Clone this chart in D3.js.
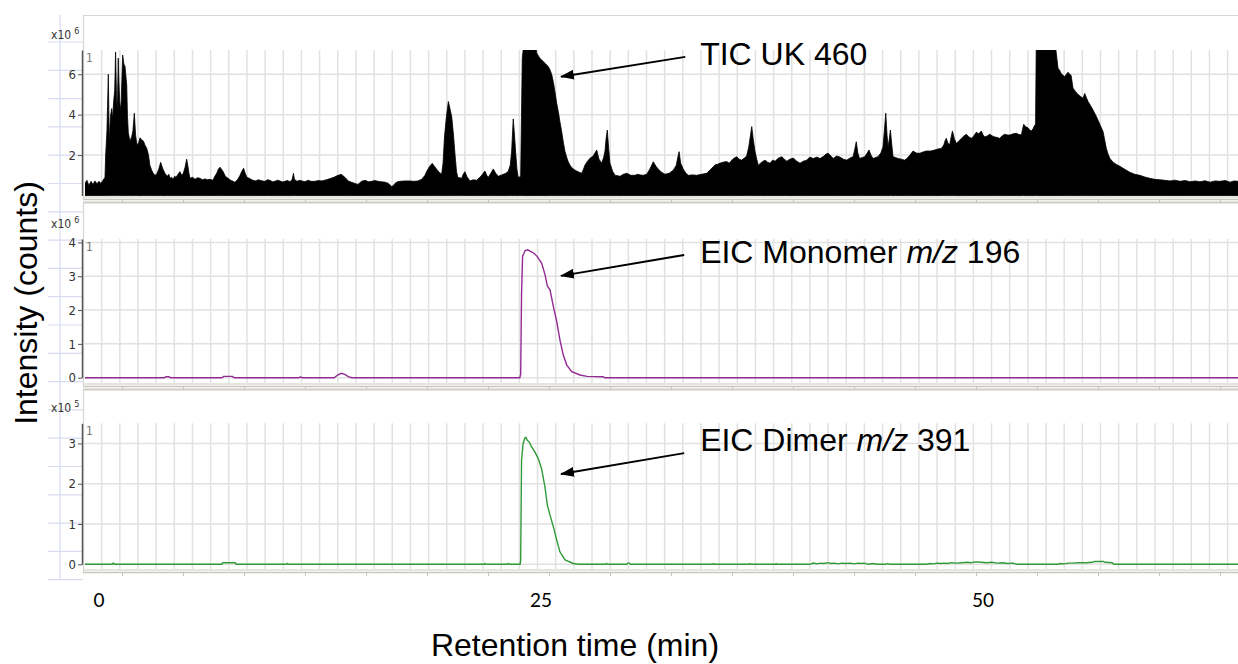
<!DOCTYPE html>
<html>
<head>
<meta charset="utf-8">
<script src="https://cdn.jsdelivr.net/npm/d3@7"></script>
<style>
  html, body { margin: 0; padding: 0; background: #fff; }
  svg { display: block; }
</style>
</head>
<body>
<svg id="chart" width="1238" height="664"></svg>
<script>
// ---- data -------------------------------------------------------------
// Retention time (min) and intensity. TIC in units of 10^6 counts
const ticTrace = [
[-0.79,0.6],[-0.68,0.75],[-0.57,0.5],[-0.45,0.7],[-0.34,0.55],[-0.23,0.72],[-0.11,0.58],[0.0,0.7],[0.11,0.6],[0.23,0.75],[0.34,0.9],
[0.38,2.0],[0.45,3.2],[0.53,6.0],[0.58,2.7],[0.65,3.9],[0.72,4.3],[0.77,3.8],[0.83,4.65],[0.89,5.2],[0.94,7.1],[0.99,5.0],[1.04,4.15],[1.09,6.8],[1.13,5.6],[1.17,4.65],[1.24,4.2],[1.34,6.95],[1.41,6.5],[1.47,6.4],[1.57,5.47],[1.61,4.0],[1.66,3.1],[1.75,2.7],[1.85,2.9],[1.92,3.2],[2.0,4.07],[2.07,3.0],[2.13,2.6],[2.21,2.5],[2.32,2.86],[2.42,2.75],[2.51,2.7],[2.6,2.5],[2.7,2.34],[2.8,2.0],[2.88,1.5],[2.98,1.25],[3.07,1.1],[3.17,1.0],[3.26,1.05],[3.38,1.3],[3.49,1.64],[3.56,1.45],[3.62,1.3],[3.73,1.1],[3.87,0.95],[3.95,1.05],[4.02,0.85],[4.1,0.9],[4.19,0.8],[4.28,0.95],[4.36,0.9],[4.47,1.05],[4.58,1.18],[4.68,1.0],[4.77,1.1],[4.87,1.4],[4.96,1.8],[5.04,1.4],[5.09,1.1],[5.15,0.85],[5.3,0.9],[5.43,0.8],[5.57,0.88],[5.71,0.85],[5.85,0.78],[6.0,0.82],[6.14,0.78],[6.28,0.8],[6.45,0.75],[6.55,0.95],[6.66,1.1],[6.75,1.3],[6.84,1.4],[6.93,1.3],[7.01,1.2],[7.15,0.95],[7.3,0.85],[7.45,0.75],[7.58,0.7],[7.69,0.65],[7.85,0.8],[7.98,1.0],[8.08,1.2],[8.18,1.35],[8.27,1.1],[8.37,0.9],[8.5,0.85],[8.64,0.78],[8.76,0.74],[8.88,0.72],[9.0,0.78],[9.11,0.75],[9.25,0.72],[9.39,0.7],[9.53,0.78],[9.67,0.75],[9.81,0.68],[9.95,0.7],[10.1,0.76],[10.24,0.72],[10.38,0.67],[10.52,0.7],[10.66,0.74],[10.8,0.68],[10.93,0.8],[11.0,1.1],[11.05,0.8],[11.2,0.7],[11.34,0.75],[11.48,0.72],[11.65,0.68],[11.82,0.75],[12.0,0.7],[12.22,0.7],[12.4,0.74],[12.61,0.72],[12.78,0.76],[12.95,0.8],[13.12,0.85],[13.29,0.9],[13.4,0.95],[13.52,1.0],[13.6,1.02],[13.69,1.05],[13.8,0.98],[13.91,0.9],[14.1,0.72],[14.29,0.65],[14.47,0.6],[14.65,0.55],[14.85,0.7],[15.05,0.75],[15.24,0.68],[15.42,0.7],[15.6,0.74],[15.78,0.7],[15.98,0.68],[16.18,0.66],[16.37,0.6],[16.56,0.44],[16.65,0.5],[16.74,0.6],[16.88,0.68],[17.02,0.7],[17.3,0.72],[17.59,0.72],[17.8,0.7],[18.04,0.72],[18.25,0.8],[18.44,1.0],[18.54,1.2],[18.64,1.35],[18.75,1.5],[18.85,1.59],[18.97,1.45],[19.1,1.3],[19.24,1.15],[19.38,1.05],[19.46,1.6],[19.54,2.9],[19.65,3.9],[19.76,4.65],[19.85,4.3],[19.95,3.9],[20.05,3.0],[20.14,2.0],[20.22,1.2],[20.29,0.9],[20.4,0.88],[20.51,0.85],[20.6,1.05],[20.7,1.18],[20.8,0.95],[20.98,0.72],[21.17,0.78],[21.36,0.75],[21.6,0.95],[21.83,1.21],[21.93,1.0],[22.02,0.9],[22.16,1.1],[22.3,1.31],[22.44,1.1],[22.58,0.95],[22.73,1.0],[22.87,1.05],[23.01,1.1],[23.15,1.2],[23.26,1.5],[23.34,2.2],[23.43,3.79],[23.5,3.0],[23.57,2.1],[23.64,1.3],[23.71,0.9],[23.78,0.92],[23.85,0.95],
[23.94,6.79],[24.04,7.6],[24.66,7.6],[24.76,7.04],[24.94,6.79],[25.1,6.65],[25.23,6.54],[25.41,6.38],[25.52,6.2],[25.61,5.97],[25.7,5.6],[25.79,5.14],[25.88,4.6],[25.98,4.15],[26.07,3.65],[26.17,3.16],[26.27,2.6],[26.36,2.17],[26.45,1.9],[26.54,1.67],[26.64,1.5],[26.74,1.38],[26.88,1.28],[27.02,1.21],[27.16,1.15],[27.3,1.1],[27.4,1.3],[27.49,1.51],[27.63,1.7],[27.77,1.84],[27.94,1.95],[28.05,2.1],[28.15,2.25],[28.28,1.8],[28.43,1.6],[28.55,1.9],[28.62,2.2],[28.68,2.8],[28.75,3.24],[28.82,2.4],[28.9,1.6],[29.05,1.2],[29.19,1.0],[29.33,0.98],[29.47,0.95],[29.66,1.05],[29.85,1.1],[30.08,1.0],[30.32,1.0],[30.46,1.05],[30.6,1.02],[30.78,1.0],[30.98,1.05],[31.15,1.3],[31.26,1.5],[31.35,1.67],[31.5,1.45],[31.64,1.3],[31.82,1.15],[32.01,1.05],[32.25,1.1],[32.48,1.25],[32.65,1.5],[32.74,1.9],[32.81,2.17],[32.9,1.6],[33.05,1.3],[33.2,1.1],[33.33,1.0],[33.57,1.02],[33.81,1.0],[34.09,1.05],[34.37,1.1],[34.6,1.3],[34.84,1.51],[35.0,1.55],[35.12,1.6],[35.3,1.65],[35.5,1.68],[35.65,1.6],[35.79,1.75],[35.93,1.85],[36.07,1.92],[36.2,1.8],[36.35,1.75],[36.5,1.85],[36.63,1.95],[36.75,2.4],[36.85,3.0],[36.92,3.41],[37.0,2.8],[37.1,2.2],[37.2,1.8],[37.29,1.5],[37.48,1.65],[37.67,1.75],[37.81,1.65],[37.95,1.6],[38.1,1.75],[38.24,1.7],[38.43,1.85],[38.62,1.92],[38.76,1.8],[38.9,1.7],[39.08,1.8],[39.27,1.85],[39.46,1.7],[39.65,1.6],[39.84,1.7],[40.03,1.75],[40.2,1.9],[40.4,1.83],[40.6,1.9],[40.78,1.83],[41.0,1.95],[41.12,2.05],[41.25,2.09],[41.39,1.95],[41.53,1.83],[41.72,1.95],[41.91,1.9],[42.1,1.8],[42.29,1.75],[42.47,1.85],[42.65,1.92],[42.75,2.3],[42.83,2.66],[42.92,2.1],[43.02,1.83],[43.17,1.88],[43.31,1.92],[43.45,2.1],[43.55,2.25],[43.66,2.0],[43.78,1.83],[43.92,1.88],[44.06,1.92],[44.22,2.1],[44.34,2.4],[44.42,3.2],[44.5,4.07],[44.57,3.0],[44.63,2.4],[44.7,2.8],[44.76,3.24],[44.84,2.5],[44.91,1.92],[45.05,1.88],[45.19,1.83],[45.38,1.8],[45.57,1.75],[45.72,1.85],[45.87,2.0],[45.95,2.1],[46.04,2.2],[46.23,2.1],[46.42,2.09],[46.6,2.15],[46.79,2.2],[47.03,2.2],[47.27,2.25],[47.45,2.3],[47.64,2.33],[47.78,2.5],[47.85,2.7],[47.92,2.83],[48.01,2.6],[48.11,2.5],[48.2,2.9],[48.27,3.19],[48.38,2.8],[48.49,2.58],[48.64,2.7],[48.78,2.83],[48.92,2.95],[49.06,3.03],[49.2,2.9],[49.34,2.83],[49.48,2.95],[49.62,3.13],[49.76,3.05],[49.9,3.19],[50.0,3.0],[50.1,2.9],[50.24,2.95],[50.38,3.03],[50.52,2.95],[50.66,2.9],[50.8,2.87],[50.94,2.83],[51.08,2.95],[51.22,3.03],[51.37,3.0],[51.51,2.99],[51.7,3.05],[51.88,3.08],[52.03,3.02],[52.17,3.0],[52.24,3.3],[52.3,3.52],[52.42,3.4],[52.54,3.35],[52.63,3.25],[52.73,3.19],[52.83,3.3],[52.92,3.48],[52.97,3.5],
[53.01,7.6],[54.07,7.6],[54.24,6.3],[54.33,6.2],[54.41,6.05],[54.52,5.95],[54.62,5.88],[54.71,6.0],[54.81,6.1],[54.9,6.0],[54.98,5.95],[55.04,5.6],[55.09,5.31],[55.23,5.15],[55.37,5.0],[55.52,4.9],[55.66,4.81],[55.75,5.05],[55.84,4.85],[55.94,4.65],[56.08,4.45],[56.22,4.23],[56.36,4.0],[56.5,3.74],[56.64,3.45],[56.79,3.16],[56.88,2.75],[56.97,2.34],[57.07,2.05],[57.17,1.84],[57.35,1.65],[57.54,1.54],[57.73,1.45],[57.92,1.35],[58.11,1.25],[58.3,1.15],[58.58,1.05],[58.86,1.0],[59.14,0.92],[59.43,0.85],[59.71,0.8],[59.99,0.78],[60.3,0.75],[60.58,0.72],[60.86,0.76],[61.14,0.7],[61.43,0.74],[61.71,0.68],[62.0,0.72],[62.27,0.68],[62.55,0.73],[62.84,0.66],[63.12,0.72],[63.4,0.7],[63.7,0.74],[63.97,0.66],[64.2,0.72],[64.42,0.7]
];

// EIC monomer m/z 196, units of 10^6 counts
const monomerTrace = [
[-0.79,0],[3.7,0],[3.8,0.03],[3.95,0.03],[4.05,0],[6.95,0],[7.05,0.04],[7.55,0.04],[7.65,0],[11.3,0],[11.4,0.02],[11.5,0],
[13.3,0],[13.5,0.08],[13.7,0.13],[13.9,0.1],[14.1,0.03],[14.3,0],[23.8,0],[23.85,0.1],[23.9,2.5],[23.96,3.6],[24.04,3.68],
[24.1,3.76],[24.25,3.78],[24.38,3.74],[24.6,3.68],[24.79,3.58],[25.04,3.38],[25.23,3.04],[25.36,2.71],[25.51,2.6],[25.7,2.1],
[25.89,1.66],[26.07,1.12],[26.26,0.67],[26.45,0.38],[26.74,0.18],[27.2,0.08],[27.6,0.04],[28.5,0.03],[28.6,0],[64.42,0]
];

// EIC dimer m/z 391, units of 10^5 counts
const dimerTrace = [
[-0.79,0],[0.75,0],[0.81,0.03],[0.87,0],[6.95,0],[7.0,0.04],[7.7,0.04],[7.75,0],[10.6,0],[10.65,0.02],[10.7,0],[21.8,0],[21.83,0.02],[21.9,0],
[23.1,0],[23.15,0.02],[23.2,0],[23.82,0],[23.85,0.1],[23.9,2.59],[23.99,3.0],[24.08,3.13],[24.15,3.15],[24.22,3.08],[24.33,3.04],[24.46,2.92],
[24.65,2.79],[24.84,2.63],[25.03,2.38],[25.22,1.93],[25.36,1.47],[25.51,1.22],[25.7,0.93],[25.89,0.6],[26.07,0.31],[26.36,0.11],[26.83,0.02],
[27.1,0],[28.65,0],[28.7,0.02],[28.75,0],[29.85,0],[29.9,0.03],[30.0,0.03],[30.05,0],[34.7,0],[34.75,0.015],[34.8,0],[36.75,0],[36.8,0.015],
[36.85,0],[38.25,0],[38.3,0.015],[38.35,0],[40.2,0],[40.4,0.03],[40.6,0.01],[40.8,0.03],[41.0,0.02],[41.2,0.04],[41.4,0.02],[41.6,0.03],
[41.8,0.01],[42.0,0.03],[42.2,0.02],[42.5,0.03],[42.7,0.01],[42.9,0.03],[43.1,0.02],[43.3,0.03],[43.5,0],[43.8,0.02],[44.0,0],[44.5,0],
[44.6,0.02],[44.7,0],[46.8,0],[47.0,0.02],[47.2,0.01],[47.4,0.03],[47.6,0.02],[47.8,0.03],[48.0,0.02],[48.2,0.04],[48.5,0.03],[48.8,0.04],
[49.1,0.05],[49.3,0.04],[49.6,0.06],[49.9,0.05],[50.2,0.04],[50.5,0.05],[50.8,0.03],[51.1,0.04],[51.4,0.02],[51.7,0.03],[51.9,0],[54.2,0],
[54.4,0.02],[54.6,0.01],[54.8,0.03],[55.0,0.03],[55.4,0.04],[55.8,0.04],[56.2,0.05],[56.3,0.07],[56.8,0.07],[56.9,0.05],[57.3,0.04],[57.4,0],[64.42,0]
];

// axis tick values and labels
const timeTickValues = [0, 25, 50];
const ticTicks = [2, 4, 6];
const monomerTicks = [0, 1, 2, 3, 4];
const dimerTicks = [0, 1, 2, 3];
const exponents = ["6", "6", "5"];
const traceLabels = [
  { text: "TIC UK 460" },
  { text: "EIC Monomer ", mz: "196" },
  { text: "EIC Dimer ", mz: "391" }
];

// ---- layout -----------------------------------------------------------
const W = 1238, H = 664;
const svg = d3.select("#chart");
svg.append("rect").attr("width", W).attr("height", H).attr("fill", "#fff");

const plotLeft = 85, plotRight = 1238, axisX = 82;
const timeDomain = [-0.79, 64.42];
const x = d3.scaleLinear().domain(timeDomain).range([plotLeft, plotRight]);

const gridStart = 0.153, gridStep = 1.0271;     // minor vertical grid interval (min)
const frameTickStart = 1.33, frameTickStep = 3.45;

const panels = [
  { data: ticTrace, ticks: ticTicks, yMax: 7.2, y0: 195.5, yTop: 50, frameTop: 15, frameBottom: 199, kind: "area", color: "#000" },
  { data: monomerTrace, ticks: monomerTicks, yMax: 4.1, y0: 377.7, yTop: 239, frameTop: 202, frameBottom: 386, kind: "line", color: "#922a91" },
  { data: dimerTrace, ticks: dimerTicks, yMax: 3.5, y0: 564.3, yTop: 423.3, frameTop: 389, frameBottom: 572, kind: "line", color: "#2f9a36" }
];
panels.forEach(p => { p.y = d3.scaleLinear().domain([0, p.yMax]).range([p.y0, p.yTop]); });

// faint ruled paper lines in the left margin
const paper = svg.append("g").attr("stroke", "#d8dbf1").attr("stroke-width", 1.2);
paper.append("line").attr("x1", 60).attr("x2", 60).attr("y1", 15).attr("y2", 580);
paper.selectAll("line.h").data(d3.range(20)).join("line").attr("class", "h")
  .attr("x1", 48).attr("x2", 83)
  .attr("y1", k => 42 + 28.3 * k).attr("y2", k => 42 + 28.3 * k);

const defs = svg.append("defs");
defs.append("marker").attr("id", "arrowhead")
  .attr("viewBox", "0 0 14 10").attr("refX", 13).attr("refY", 5)
  .attr("markerWidth", 14).attr("markerHeight", 10).attr("markerUnits", "userSpaceOnUse")
  .attr("orient", "auto")
  .append("path").attr("d", "M0,0 L14,5 L0,10 Z").attr("fill", "#000");

const narrow = "'Liberation Sans Narrow','DejaVu Sans Condensed','Arial Narrow',sans-serif";
const minorGrid = d3.range(gridStart, timeDomain[1], gridStep);
const frameTicks = d3.range(frameTickStart, timeDomain[1], frameTickStep);

panels.forEach((p, i) => {
  const g = svg.append("g");

  // panel frame
  g.append("line").attr("x1", 83).attr("x2", W).attr("y1", p.frameTop + 0.5).attr("y2", p.frameTop + 0.5)
    .attr("stroke", i === 0 ? "#d6d6d6" : "#cfccc6").attr("stroke-width", i === 0 ? 1.2 : 2);
  g.append("line").attr("x1", 83.5).attr("x2", 83.5).attr("y1", p.frameTop).attr("y2", p.frameBottom)
    .attr("stroke", "#d6d6d6").attr("stroke-width", 1.2);
  g.append("line").attr("x1", 83).attr("x2", W).attr("y1", p.frameBottom - 2).attr("y2", p.frameBottom - 2)
    .attr("stroke", "#dedbd5").attr("stroke-width", 1.5);
  g.append("line").attr("x1", 83).attr("x2", W).attr("y1", p.frameBottom + 0.5).attr("y2", p.frameBottom + 0.5)
    .attr("stroke", "#c9c6c0").attr("stroke-width", 1.5);
  g.selectAll("line.ft").data(frameTicks).join("line").attr("class", "ft")
    .attr("x1", d => x(d)).attr("x2", d => x(d))
    .attr("y1", p.frameBottom + 1).attr("y2", p.frameBottom + 4)
    .attr("stroke", "#c4c4c4").attr("stroke-width", 1);

  // grid
  const grid = g.append("g").attr("stroke", "#e1e1e1").attr("stroke-width", 1.5);
  grid.selectAll("line.v").data(minorGrid).join("line").attr("class", "v")
    .attr("x1", d => x(d)).attr("x2", d => x(d))
    .attr("y1", p.yTop).attr("y2", p.frameBottom - 3);
  grid.selectAll("line.h").data(p.ticks).join("line").attr("class", "h")
    .attr("x1", axisX).attr("x2", W)
    .attr("y1", d => p.y(d)).attr("y2", d => p.y(d));

  // trace
  const clipId = "clip" + i;
  defs.append("clipPath").attr("id", clipId).append("rect")
    .attr("x", plotLeft).attr("y", p.yTop).attr("width", plotRight - plotLeft).attr("height", p.frameBottom - 3 - p.yTop);
  const trace = g.append("g").attr("clip-path", `url(#${clipId})`);
  if (p.kind === "area") {
    const area = d3.area().x(d => x(d[0])).y0(p.y(0)).y1(d => p.y(d[1]));
    trace.append("path").datum(p.data).attr("d", area)
      .attr("fill", p.color).attr("stroke", p.color).attr("stroke-width", 0.8);
  } else {
    const line = d3.line().x(d => x(d[0])).y(d => p.y(d[1]));
    trace.append("path").datum(p.data).attr("d", line)
      .attr("fill", "none").attr("stroke", p.color).attr("stroke-width", 1.4);
  }

  // y axis
  const axis = d3.axisLeft(p.y).tickValues(p.ticks).tickSize(4).tickSizeOuter(0).tickPadding(2)
    .tickFormat(d3.format("d"));
  const ag = g.append("g").attr("transform", `translate(${axisX},0)`).call(axis);
  ag.select(".domain").attr("stroke", "#555").attr("stroke-width", 1.5);
  ag.selectAll(".tick line").attr("stroke", "#555").attr("stroke-width", 1);
  ag.selectAll(".tick text").attr("fill", "#333").style("font-family", narrow).style("font-size", "13px");

  // scale exponent label
  const ex = g.append("text").attr("x", 51).attr("y", p.yTop - 11)
    .attr("fill", "#333").style("font-family", narrow).style("font-size", "12px");
  ex.append("tspan").text("x10");
  ex.append("tspan").attr("dx", 3).attr("dy", -5).style("font-size", "9px").text(exponents[i]);

  // trace number
  g.append("text").attr("x", 86).attr("y", p.yTop + 12).attr("fill", "#777")
    .style("font-family", narrow).style("font-size", "12px").text("1");
});

// annotations with arrows (data coordinates)
const notes = [
  { label: [34.0, 6.46], from: [33.16, 6.86], to: [26.13, 5.88] },
  { label: [34.0, 3.39], from: [33.1, 3.63], to: [26.13, 3.01] },
  { label: [34.0, 2.82], from: [33.1, 2.76], to: [26.13, 2.24] }
];
notes.forEach((n, i) => {
  const p = panels[i];
  svg.append("line")
    .attr("x1", x(n.from[0])).attr("y1", p.y(n.from[1]))
    .attr("x2", x(n.to[0])).attr("y2", p.y(n.to[1]))
    .attr("stroke", "#000").attr("stroke-width", 2).attr("marker-end", "url(#arrowhead)");
  const t = svg.append("text").attr("x", x(n.label[0])).attr("y", p.y(n.label[1]))
    .attr("fill", "#000").style("font-family", "'Liberation Sans',Arial,sans-serif").style("font-size", "32px");
  t.append("tspan").text(traceLabels[i].text);
  if (traceLabels[i].mz) {
    t.append("tspan").style("font-style", "italic").text("m/z");
    t.append("tspan").text(" " + traceLabels[i].mz);
  }
});

// x tick labels
svg.selectAll("text.xt").data(timeTickValues).join("text").attr("class", "xt")
  .attr("x", d => x(d)).attr("y", 607).attr("text-anchor", "middle")
  .attr("fill", "#000").style("font-family", "Lato,'Open Sans',sans-serif").style("font-size", "19px")
  .text(d => d);

// axis titles
svg.append("text").attr("x", 575).attr("y", 656).attr("text-anchor", "middle")
  .style("font-family", "'Liberation Sans',Arial,sans-serif").style("font-size", "32px")
  .text("Retention time (min)");
svg.append("text").attr("transform", "translate(37,303) rotate(-90)").attr("text-anchor", "middle")
  .style("font-family", "'Liberation Sans',Arial,sans-serif").style("font-size", "32px")
  .text("Intensity (counts)");
</script>
</body>
</html>
